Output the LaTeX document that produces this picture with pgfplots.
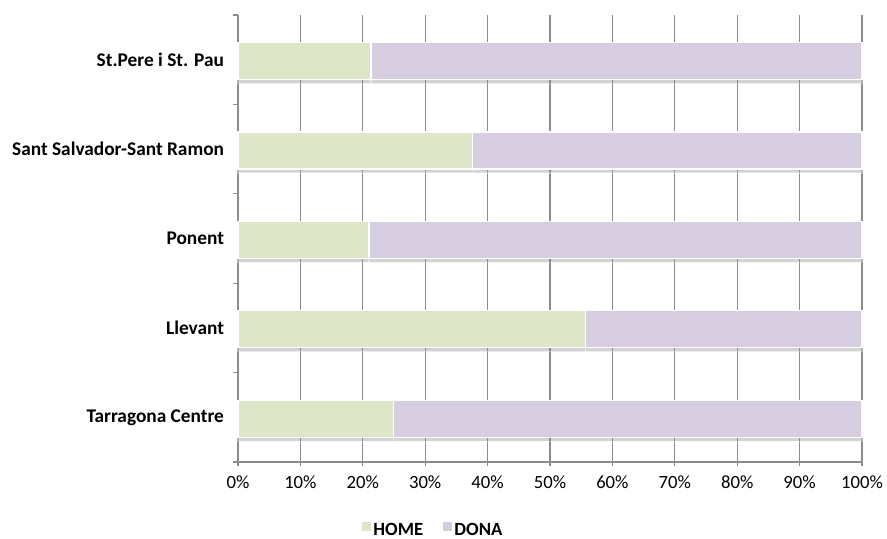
\documentclass[border=0pt]{standalone}
\usepackage{pgfplots}
\pgfplotsset{compat=1.18}
\usetikzlibrary{shadows}
\usepackage{fontspec}
\setmainfont{Carlito}
\definecolor{homec}{RGB}{221,230,200}
\definecolor{donac}{RGB}{214,205,224}
\definecolor{gridc}{RGB}{140,140,140}
\begin{document}
\begin{tikzpicture}
\useasboundingbox (0pt,0pt) rectangle (665.25pt,403.5pt);
\begin{axis}[
  at={(178.5pt,57pt)}, anchor=south west,
  scale only axis,
  width=468pt, height=335.25pt,
  xbar stacked,
  bar width=27.75pt,
  xmin=0, xmax=100,
  ymin=-0.5, ymax=4.5,
  axis x line*=bottom,
  axis y line*=left,
  axis line style={gridc, line width=0.9pt},
  xtick={0,10,...,100},
  xticklabel={\pgfmathprintnumber{\tick}\%},
  xmajorgrids,
  grid style={gridc, line width=0.9pt},
  major x tick style={gridc, line width=0.9pt},
  xtick align=outside,
  major tick length=3pt,
  ytick={0,1,2,3,4},
  yticklabels={Tarragona Centre,Llevant,Ponent,Sant Salvador-Sant Ramon,St.Pere i St. Pau},
  yticklabel style={font=\fontsize{14.5}{16}\selectfont\bfseries, xshift=-4pt},
  xticklabel style={font=\fontsize{14}{16}\selectfont, yshift=-4pt},
  major y tick style={draw=none},
  minor ytick={-0.5,0.5,1.5,2.5,3.5,4.5},
  minor y tick style={gridc, line width=0.9pt},
  minor tick length=4pt,
  ytick align=outside,
  /pgf/number format/assume math mode=true,
  legend style={at={(0.3135,-0.152)}, anchor=center, draw=none, fill=none,
    legend columns=2, font=\fontsize{14}{16}\selectfont\bfseries,
    /tikz/every even column/.append style={column sep=13pt},
    /tikz/every odd column/.append style={column sep=0pt}},
  clip=false,
]
\addplot[fill=homec, draw=white, line width=0.9pt, bar shift=-1pt, forget plot,
  /tikz/drop shadow={shadow xshift=0pt, shadow yshift=-3pt, opacity=0.35, fill=gray}] coordinates {(24.9,0) (55.7,1) (21.0,2) (37.6,3) (21.3,4)};
\addplot[fill=donac, draw=white, line width=0.9pt, bar shift=-1pt, forget plot,
  /tikz/drop shadow={shadow xshift=0pt, shadow yshift=-3pt, opacity=0.35, fill=gray}] coordinates {(75.1,0) (44.3,1) (79.0,2) (62.4,3) (78.7,4)};
\addlegendimage{legend image code/.code={\fill[homec] (0pt,-0.5pt) rectangle (6pt,5.5pt);}}
\addlegendentry{HOME}
\addlegendimage{legend image code/.code={\fill[donac] (0pt,-0.5pt) rectangle (6pt,5.5pt);}}
\addlegendentry{DONA}
\end{axis}
\end{tikzpicture}
\end{document}
